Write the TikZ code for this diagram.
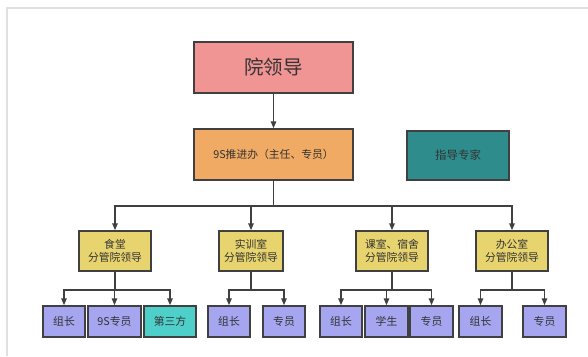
\documentclass[tikz,border=0pt]{standalone}
\usepackage{fontspec}
\setmainfont{Noto Sans CJK SC}
\usetikzlibrary{arrows.meta}
\definecolor{leadred}{HTML}{F09494}
\definecolor{officeorange}{HTML}{F0AA64}
\definecolor{expertteal}{HTML}{2F8C8C}
\definecolor{headyellow}{HTML}{E8D46E}
\definecolor{staffblue}{HTML}{A5A5F0}
\definecolor{thirdcyan}{HTML}{4FCFC9}
\definecolor{edgegray}{HTML}{404040}
\tikzset{
  box/.style={draw=edgegray, line width=1.5pt, text=black!80, align=center,
    inner sep=0pt, font=\fontsize{10.8}{13}\selectfont},
  headbox/.style={box, fill=headyellow, minimum height=40pt},
  staffbox/.style={box, fill=staffblue, minimum height=31pt, minimum width=42pt},
  arr/.style={draw=edgegray, line width=1.5pt, -{Triangle[length=7pt,width=5.5pt]}},
  link/.style={draw=edgegray, line width=1.5pt}
}
\begin{document}
\begin{tikzpicture}[x=1pt,y=-1pt]
\useasboundingbox (0,0) rectangle (588,356);
\fill[white] (0,0) rectangle (588,356);
% frame of the screenshot
\draw[black!12, line width=2pt] (7,356) -- (7,8) -- (588,8);
% top levels
\node[box, fill=leadred, minimum width=159pt, minimum height=51pt,
  font=\fontsize{19.5}{22}\selectfont] (lead) at (273.5,67.5) {院领导};
\node[box, fill=officeorange, minimum width=159pt, minimum height=51pt] (office) at (273.5,154.5) {9S推进办（主任、专员）};
\node[box, fill=expertteal, minimum width=102pt, minimum height=49pt,
  font=\fontsize{11.5}{13}\selectfont] (expert) at (458,155.5) {指导专家};
% heads of the departments
\node[headbox, minimum width=72pt] (canteen) at (115,251) {食堂\\分管院领导};
\node[headbox, minimum width=64pt] (training) at (251,251) {实训室\\分管院领导};
\node[headbox, minimum width=72pt] (classroom) at (392,251) {课室、宿舍\\分管院领导};
\node[headbox, minimum width=72pt] (admin) at (512,251) {办公室\\分管院领导};
% staff
\node[staffbox] (c1) at (64,321.5) {组长};
\node[staffbox, minimum width=53pt] (c2) at (114.5,321.5) {9S专员};
\node[staffbox, minimum width=52pt, fill=thirdcyan] (c3) at (170,321.5) {第三方};
\node[staffbox] (t1) at (229,321.5) {组长};
\node[staffbox] (t2) at (284,321.5) {专员};
\node[staffbox] (r1) at (341,321.5) {组长};
\node[staffbox, minimum width=43pt] (r2) at (386.5,321.5) {学生};
\node[staffbox, minimum width=43pt] (r3) at (431.5,321.5) {专员};
\node[staffbox, minimum width=43pt] (a1) at (480.5,321.5) {组长};
\node[staffbox, minimum width=43pt] (a2) at (544.5,321.5) {专员};
% connectors
\draw[arr] (lead) -- (office);
\coordinate (bus) at (273.5,206);
\draw[link] (office.south) -- (bus);
\foreach \n in {canteen,training,classroom,admin}
  \draw[arr] (bus) -| (\n.north);
\foreach \p/\c in {canteen/c1,canteen/c2,canteen/c3,training/t1,training/t2,
    classroom/r1,classroom/r2,classroom/r3,admin/a1,admin/a2}
  \draw[arr] (\p.south) -- ++(0,18) -| (\c.north);
\end{tikzpicture}
\end{document}
